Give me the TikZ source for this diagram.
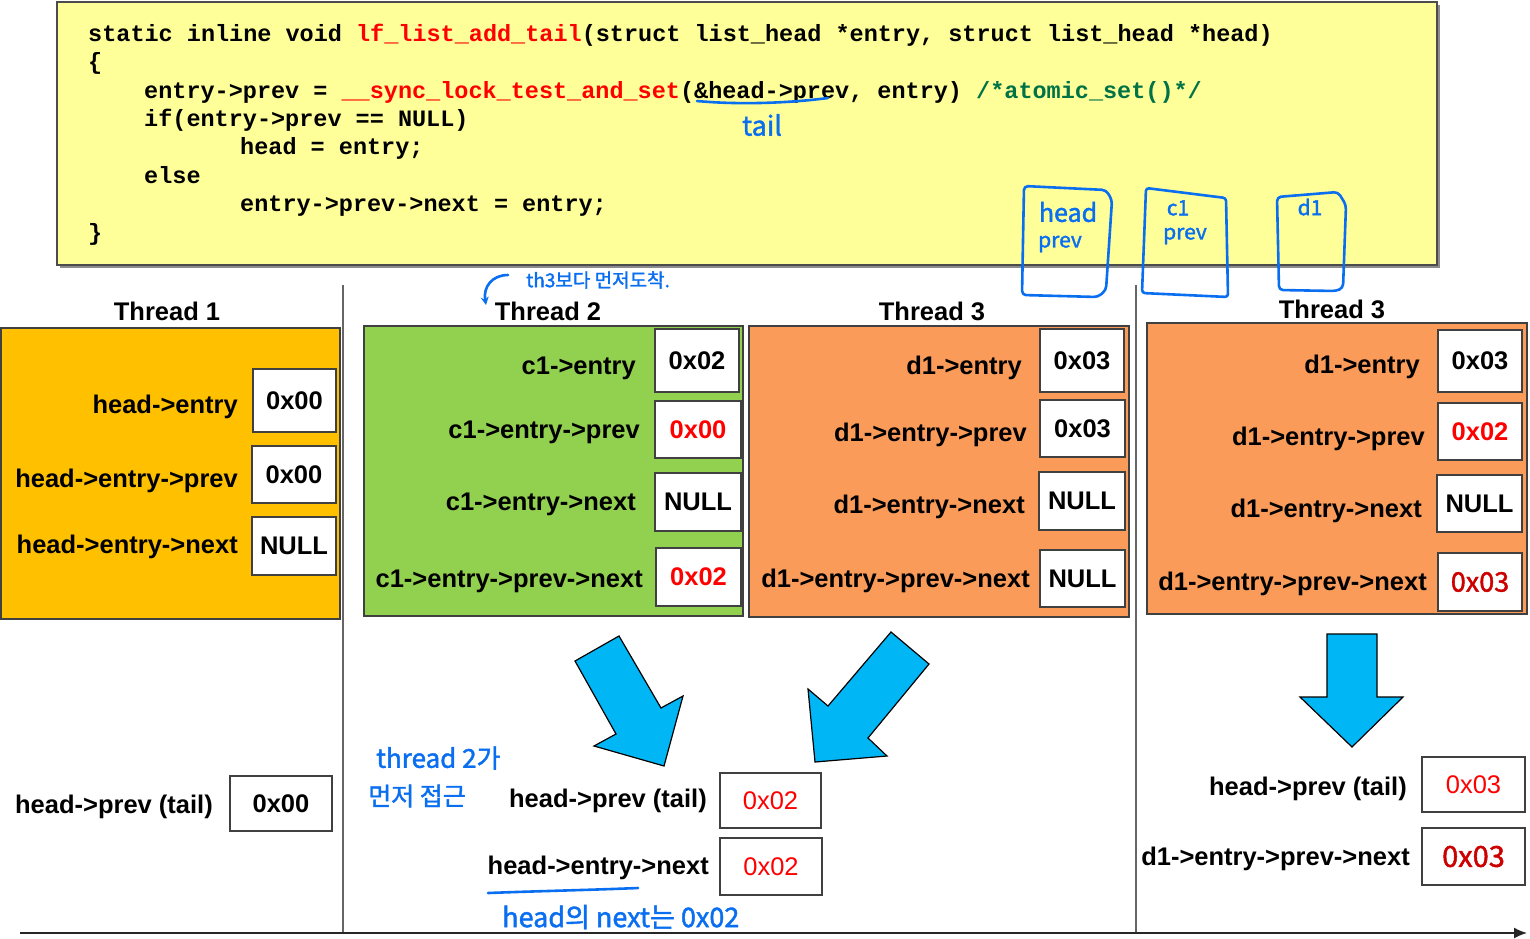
\documentclass[tikz,border=0pt]{standalone}
\usepackage{fontspec}
\setmainfont{Liberation Sans}
\newfontfamily\codefont{Liberation Mono}
\newfontfamily\krfont[FakeBold=1.6]{Noto Sans CJK KR}
\usetikzlibrary{arrows.meta}
\definecolor{codebg}{RGB}{255,255,153}
\definecolor{tone}{RGB}{255,192,0}
\definecolor{ttwo}{RGB}{146,208,80}
\definecolor{tthree}{RGB}{250,155,90}
\definecolor{arrowblue}{RGB}{0,182,245}
\definecolor{hblue}{RGB}{10,110,240}
\definecolor{codegreen}{RGB}{0,115,70}
\definecolor{hred}{RGB}{205,0,0}
\begin{document}
\begin{tikzpicture}[x=1pt,y=-1pt,
  panel/.style={draw=black!75, line width=1.4pt, inner sep=0pt},
  val/.style={draw=black!75, fill=white, line width=1.3pt, inner sep=0pt, font=\fontsize{25.5}{30}\selectfont\bfseries},
  lbl/.style={inner sep=0pt, anchor=base east, font=\fontsize{25.5}{30}\selectfont\bfseries},
  title/.style={inner sep=0pt, anchor=base, font=\fontsize{25.5}{30}\selectfont\bfseries},
  codeline/.style={inner sep=0pt, anchor=base west, font=\codefont\bfseries\fontsize{23.5}{28}\selectfont},
  sep/.style={draw=black!60, line width=1.6pt},
  bigarrow/.style={fill=arrowblue, draw=black, line width=1.2pt, line join=miter},
  hand/.style={draw=hblue, line width=2.6pt, line cap=round, line join=round},
  handtext/.style={text=hblue, inner sep=0pt, font=\krfont\fontsize{#1}{#1}\selectfont},
  handtext/.default=22
]
\useasboundingbox (0,0) rectangle (1530,938);

% ---------------- code box ----------------
\fill[black!45] (60,5) rectangle (1440,268);
\node[draw=black!70, fill=codebg, line width=1.4pt, minimum width=1380pt, minimum height=263pt, inner sep=0pt] (code) at (747,133.5) {};
\node[codeline] (c1) at (88,41) {static inline void \textcolor{red}{lf\_list\_add\_tail}(struct list\_head *entry, struct list\_head *head)};
\node[codeline] (c2) at (88,69) {\{};
\node[codeline] (c3) at (144,98) {entry->prev = \textcolor{red}{\_\_sync\_lock\_test\_and\_set}(\&head->prev, entry) \textcolor{codegreen}{/*atomic\_set()*/}};
\node[codeline] (c4) at (144,126) {if(entry->prev == NULL)};
\node[codeline] (c5) at (240,154) {head = entry;};
\node[codeline] (c6) at (144,183) {else};
\node[codeline] (c7) at (240,211) {entry->prev->next = entry;};
\node[codeline] (c8) at (88,240) {\}};

% handwriting on code
\draw[hand] (697,101) .. controls (740,105) and (790,103) .. (828,98);
\node[handtext=27] (tailnote) at (762,125) {tail};

% hand-drawn boxes
\draw[hand, rounded corners=4pt] (1024,186) -- (1106,190) -- (1112,200) -- (1106,290) -- (1098,297) -- (1022,295) -- cycle;
\node[handtext=25] (hb1) at (1068,212) {head};
\node[handtext=21] (hb2) at (1060,244) {prev};
\draw[hand, rounded corners=3pt] (1146,188) -- (1226,198) -- (1228,297) -- (1142,293) -- cycle;
\node[handtext=21] (hb3) at (1178,208) {c1};
\node[handtext=21] (hb4) at (1185,236) {prev};
\draw[hand, rounded corners=4pt] (1277,197) -- (1338,192) -- (1346,205) -- (1343,288) -- (1336,291) -- (1279,290) -- cycle;
\node[handtext=21] (hb5) at (1310,207) {d1};

% ---------------- separators and time axis ----------------
\draw[sep] (343,285) -- (343,933);
\draw[sep] (1136,285) -- (1136,933);
\coordinate (ax0) at (20,933);
\coordinate (ax1) at (1527,933);
\draw[draw=black!85, line width=1.6pt, -{Latex[length=13pt,width=11pt]}] (ax0) -- (ax1);

% ---------------- Thread 1 ----------------
\node[title] (tt1) at (167,320) {Thread 1};
\node[panel, fill=tone, minimum width=339pt, minimum height=291pt] (p1) at (170.5,473.5) {};
\node[val, minimum width=83pt, minimum height=63pt] (p1a) at (294.5,400.5) {0x00};
\node[val, minimum width=84pt, minimum height=57pt] (p1b) at (294,474.5) {0x00};
\node[val, minimum width=84pt, minimum height=58pt] (p1c) at (294,546) {NULL};
\node[lbl] (l1a) at (238,413) {head->entry};
\node[lbl] (l1b) at (238,487) {head->entry->prev};
\node[lbl] (l1c) at (238,553) {head->entry->next};

% ---------------- Thread 2 ----------------
\node[title] (tt2) at (548,320) {Thread 2};
\node[panel, fill=ttwo, minimum width=379pt, minimum height=290pt] (p2) at (553.5,471) {};
\node[val, minimum width=84pt, minimum height=63pt] (p2a) at (697,360.5) {0x02};
\node[val, minimum width=86pt, minimum height=57pt, text=red] (p2b) at (698,429.5) {0x00};
\node[val, minimum width=86pt, minimum height=58pt] (p2c) at (698,502) {NULL};
\node[val, minimum width=85pt, minimum height=58pt, text=red] (p2d) at (698.5,577) {0x02};
\node[lbl] (l2a) at (636,374) {c1->entry};
\node[lbl] (l2b) at (640,438) {c1->entry->prev};
\node[lbl] (l2c) at (636,510) {c1->entry->next};
\node[lbl] (l2d) at (643,587) {c1->entry->prev->next};

% ---------------- Thread 3 (middle) ----------------
\node[title] (tt3) at (932,320) {Thread 3};
\node[panel, fill=tthree, minimum width=380pt, minimum height=291pt] (p3) at (939,471.5) {};
\node[val, minimum width=84pt, minimum height=63pt] (p3a) at (1082,360.5) {0x03};
\node[val, minimum width=85pt, minimum height=57pt] (p3b) at (1082.5,428.5) {0x03};
\node[val, minimum width=86pt, minimum height=58pt] (p3c) at (1082,501) {NULL};
\node[val, minimum width=85pt, minimum height=57pt] (p3d) at (1082.5,578.5) {NULL};
\node[lbl] (l3a) at (1022,374) {d1->entry};
\node[lbl] (l3b) at (1027,441) {d1->entry->prev};
\node[lbl] (l3c) at (1025,513) {d1->entry->next};
\node[lbl] (l3d) at (1030,587) {d1->entry->prev->next};

% ---------------- Thread 3 (right) ----------------
\node[title] (tt4) at (1332,318) {Thread 3};
\node[panel, fill=tthree, minimum width=380pt, minimum height=291pt] (p4) at (1337,468.5) {};
\node[val, minimum width=84pt, minimum height=62pt] (p4a) at (1480,361) {0x03};
\node[val, minimum width=84pt, minimum height=57pt, text=red] (p4b) at (1480,431.5) {0x02};
\node[val, minimum width=85pt, minimum height=57pt] (p4c) at (1479.5,503.5) {NULL};
\node[val, minimum width=84pt, minimum height=58pt, text=hred, font=\krfont\fontsize{27}{30}\selectfont] (p4d) at (1480,582) {0x03};
\node[lbl] (l4a) at (1420,373) {d1->entry};
\node[lbl] (l4b) at (1425,445) {d1->entry->prev};
\node[lbl] (l4c) at (1422,517) {d1->entry->next};
\node[lbl] (l4d) at (1427,590) {d1->entry->prev->next};

% ---------------- big blue arrows ----------------
\filldraw[bigarrow] (575,661) -- (619,636) -- (661,708) -- (683,696) -- (664,766) -- (594,746) -- (616,734) -- cycle;
\filldraw[bigarrow] (891,632) -- (929,664) -- (868,738) -- (887,756) -- (815,762) -- (808,689) -- (828,706) -- cycle;
\filldraw[bigarrow] (1327,634) -- (1377,634) -- (1377,697) -- (1403,697) -- (1352,747) -- (1300,697) -- (1327,697) -- cycle;

% ---------------- bottom results ----------------
\node[lbl] (b1l) at (213,813) {head->prev (tail)};
\node[val, minimum width=102pt, minimum height=55pt] (b1v) at (281,803.5) {0x00};

\node[lbl] (b2l) at (707,807) {head->prev (tail)};
\node[val, minimum width=101pt, minimum height=55pt, text=red, font=\fontsize{25.5}{30}\selectfont] (b2v) at (770.5,800.5) {0x02};
\node[lbl] (b3l) at (709,874) {head->entry->next};
\node[val, minimum width=102pt, minimum height=57pt, text=red, font=\fontsize{25.5}{30}\selectfont] (b3v) at (771,866.5) {0x02};

\node[lbl] (b4l) at (1407,795) {head->prev (tail)};
\node[val, minimum width=103pt, minimum height=55pt, text=red, font=\fontsize{25.5}{30}\selectfont] (b4v) at (1473.5,784.5) {0x03};
\node[lbl] (b5l) at (1410,865) {d1->entry->prev->next};
\node[val, minimum width=103pt, minimum height=57pt, text=hred, font=\krfont\fontsize{29}{30}\selectfont] (b5v) at (1473.5,856.5) {0x03};

% ---------------- handwritten notes ----------------
\node[handtext=19, anchor=west] (note1) at (526,280) {th3보다 먼저도착.};
\coordinate (n1s) at (508,275);
\coordinate (n1e) at (486,305);
\draw[hand, -{Stealth[length=8pt,width=8pt]}] (n1s) .. controls (492,275) and (483,287) .. (n1e);

\node[handtext=26, anchor=west] (note2) at (376,758) {thread 2가};
\node[handtext=25, anchor=west] (note3) at (368,796) {먼저 접근};

\coordinate (u1) at (488,893);
\coordinate (u2) at (638,888);
\draw[hand] (u1) .. controls (540,891) and (590,890) .. (u2);
\node[handtext=27, anchor=west] (note4) at (502,917) {head의 next는 0x02};
\end{tikzpicture}
\end{document}
